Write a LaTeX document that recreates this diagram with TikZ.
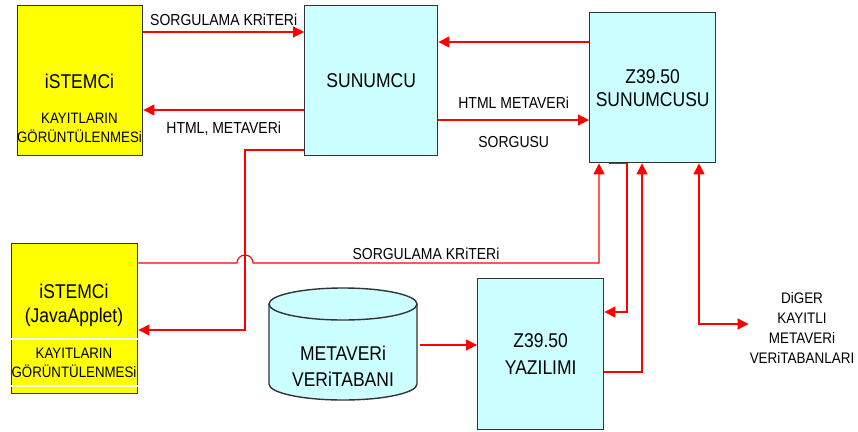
\documentclass[tikz,border=0pt]{standalone}
\usepackage{fontspec}
\setmainfont[FakeStretch=0.88]{Liberation Sans}
\usetikzlibrary{arrows.meta}

\definecolor{clientyellow}{HTML}{FFFF00}
\definecolor{servercyan}{HTML}{CCFFFF}
\definecolor{edgegray}{HTML}{333333}

\begin{document}
\begin{tikzpicture}[
  x=1pt,
  y=-1pt,
  box/.style={
    draw=edgegray,
    line width=1.4pt,
    anchor=north west,
    align=center,
    inner sep=0pt,
    font=\fontsize{19.9}{23}\selectfont
  },
  client/.style={box,fill=clientyellow},
  server/.style={box,fill=servercyan},
  big/.style={font=\fontsize{19.9}{24}\selectfont,align=center,inner sep=1pt},
  small/.style={font=\fontsize{15.1}{19}\selectfont,align=center,inner sep=1pt},
  lbl/.style={text=black,font=\fontsize{15.9}{16}\selectfont,inner sep=1pt},
  wire/.style={red,line width=1.1pt},
  link/.style={wire,-{Triangle[length=11pt,width=11pt]}},
  twoway/.style={wire,{Triangle[length=11pt,width=11pt]}-{Triangle[length=11pt,width=11pt]}}
]
  \useasboundingbox (0,0) rectangle (858,431);

  % clients
  \node[client,minimum width=125pt,minimum height=150pt] (istemci) at (17,5) {};
  \node[big] at (79.5,81) {iSTEMCi};
  \node[small] at (79.5,128) {KAYITLARIN\\GÖRÜNTÜLENMESi};

  \node[client,minimum width=126pt,minimum height=150pt] (applet) at (11,243) {};
  \draw[white,line width=1.2pt] (applet.west|-0,339) -- (applet.east|-0,339);
  \draw[white,line width=1.2pt] (applet.west|-0,386) -- (applet.east|-0,386);
  \node[big] at (74,305) {iSTEMCi\\(JavaApplet)};
  \node[small] at (74,363) {KAYITLARIN\\GÖRÜNTÜLENMESi};

  % servers
  \node[server,minimum width=133pt,minimum height=150pt] (sunucu) at (304,5) {SUNUMCU};
  \node[server,minimum width=126pt,minimum height=150pt] (zsunucu) at (589,12) {Z39.50\\SUNUMCUSU};
  \node[server,minimum width=126pt,minimum height=151pt,
    font=\fontsize{19.9}{27}\selectfont] (yazilim) at (477,278) {Z39.50\\YAZILIMI};

  % database
  \filldraw[fill=servercyan,draw=edgegray,line width=1.4pt]
    (269,304) -- (269,384) arc[start angle=180,end angle=0,x radius=74,y radius=16] -- (417,304);
  \filldraw[fill=servercyan,draw=edgegray,line width=1.4pt]
    (343,304) ellipse[x radius=74,y radius=16];
  \node[big,font=\fontsize{19.9}{26}\selectfont] (veritabani) at (343,366) {METAVERi\\VERiTABANI};
  \coordinate (dbport) at (420,345);

  \node[small,font=\fontsize{15.3}{20}\selectfont] (diger) at (802,328)
    {DiGER\\KAYITLI\\METAVERi\\VERiTABANLARI};

  % connectors
  \draw[link] (istemci.east|-0,32) -- node[lbl,above=5pt] {SORGULAMA KRiTERi} (sunucu.west|-0,32);
  \draw[link] (sunucu.west|-0,110) -- node[lbl,below=10pt] {HTML, METAVERi} (istemci.east|-0,110);
  \draw[link] (zsunucu.west|-0,42) -- (sunucu.east|-0,42);
  \draw[link] (sunucu.east|-0,120) --
    node[lbl,above=10pt] {HTML METAVERi}
    node[lbl,below=15pt] {SORGUSU} (zsunucu.west|-0,120);
  \draw[link] (sunucu.west|-0,150) -| (245,330) -- (applet.east|-0,330);
  \draw[link] (applet.east|-0,263) -- (237,263) arc[start angle=180,end angle=360,radius=8]
    -- node[lbl,above=2pt] {SORGULAMA KRiTERi} (599,263) -- (zsunucu.south-|599,0);
  \draw[link] (zsunucu.south-|609,0) -- (zsunucu.south-|627,0) -- (627,312) -- (yazilim.east|-0,312);
  \draw[link] (yazilim.east|-0,372) -| (zsunucu.south-|642,0);
  \draw[link] (dbport) -- (yazilim.west|-0,345);
  \draw[twoway] (zsunucu.south-|699,0) |- (diger.west|-0,324);
\end{tikzpicture}
\end{document}
